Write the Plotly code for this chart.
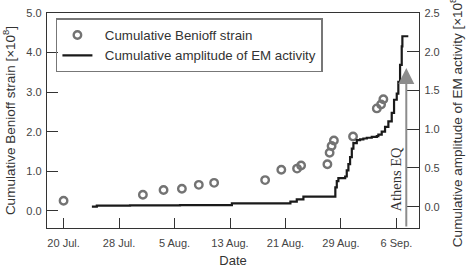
import plotly.graph_objects as go

# ---- data ----
benioff_dates = [
    "1999-07-20 00:00", "1999-07-31 10:30", "1999-08-03 10:00", "1999-08-06 01:30",
    "1999-08-08 12:00", "1999-08-10 17:00", "1999-08-18 01:30", "1999-08-20 09:30",
    "1999-08-22 16:00", "1999-08-23 06:00", "1999-08-27 01:00", "1999-08-27 08:40",
    "1999-08-27 15:30", "1999-08-27 23:30", "1999-08-30 17:45", "1999-09-03 04:00",
    "1999-09-03 18:45", "1999-09-04 02:40",
]
benioff_values = [
    0.26, 0.41, 0.53, 0.56, 0.66, 0.71, 0.78, 1.04, 1.07, 1.15, 1.18, 1.47,
    1.64, 1.78, 1.88, 2.59, 2.69, 2.82,
]

em_dates = [
    "1999-07-24 02:00", "1999-07-24 19:00", "1999-07-29 14:00", "1999-08-05 19:00",
    "1999-08-13 06:30", "1999-08-21 17:00", "1999-08-22 15:00", "1999-08-23 14:00",
    "1999-08-28 04:30", "1999-08-28 09:30", "1999-08-28 15:00", "1999-08-29 14:30",
    "1999-08-29 20:00", "1999-08-30 01:40", "1999-08-30 07:30", "1999-08-30 13:30",
    "1999-08-30 19:00", "1999-08-31 06:40", "1999-08-31 18:00", "1999-09-01 05:30",
    "1999-09-01 17:20", "1999-09-02 10:30", "1999-09-03 04:00", "1999-09-03 09:20",
    "1999-09-03 21:00", "1999-09-04 08:30", "1999-09-04 20:00", "1999-09-05 07:40",
    "1999-09-05 15:40", "1999-09-06 01:00", "1999-09-06 06:30", "1999-09-06 12:30",
    "1999-09-06 18:15", "1999-09-06 20:30", "1999-09-07 17:00",
]
em_values = [
    0.0, 0.013, 0.016, 0.02, 0.044, 0.065, 0.095, 0.13, 0.25, 0.33, 0.37, 0.39,
    0.47, 0.55, 0.64, 0.75, 0.82, 0.86, 0.87, 0.88, 0.89, 0.90, 0.91, 0.93,
    0.97, 1.03, 1.10, 1.21, 1.38, 1.46, 1.61, 1.83, 2.07, 2.20, 2.20,
]

x_tick_dates = ["1999-07-20", "1999-07-28", "1999-08-05", "1999-08-13",
                "1999-08-21", "1999-08-29", "1999-09-06"]
x_tick_labels = ["20 Jul.", "28 Jul.", "5 Aug.", "13 Aug.", "21 Aug.", "29 Aug.", "6 Sep."]
x_range = ["1999-07-17 14:40", "1999-09-09 06:00"]

y_left_ticks = [0.0, 1.0, 2.0, 3.0, 4.0, 5.0]
y_left_range = [-0.43, 5.0]
y_right_ticks = [0.0, 0.5, 1.0, 1.5, 2.0, 2.5]
y_right_range = [-0.275, 2.5]

eq_date = "1999-09-07 10:00"
eq_arrow_tip = 1.79
eq_label = "Athens EQ"
eq_label_y = 0.355

FONT = "Liberation Sans, Arial, sans-serif"
AX = "#333333"

fig = go.Figure()
fig.add_trace(go.Scatter(
    x=benioff_dates, y=benioff_values, mode="markers",
    name="\u00a0\u00a0Cumulative Benioff strain",
    marker=dict(symbol="circle-open", size=7.5, color="#737373",
                line=dict(width=2.4, color="#737373")),
    yaxis="y",
))
fig.add_trace(go.Scatter(
    x=em_dates, y=em_values, mode="lines", line_shape="hv",
    name="\u00a0\u00a0Cumulative amplitude of EM activity",
    line=dict(color="#1a1a1a", width=2.2),
    yaxis="y2",
))

fig.add_annotation(
    x=eq_date, y=eq_arrow_tip, xref="x", yref="y2",
    ax=eq_date, ay=y_right_range[0], axref="x", ayref="y2",
    text="", showarrow=True, arrowhead=2, arrowsize=1.6, arrowwidth=2,
    arrowcolor="#8c8c8c",
)
fig.add_annotation(
    x=eq_date, y=eq_label_y, xref="x", yref="y2", xshift=-10,
    text=eq_label, showarrow=False, textangle=-90,
    font=dict(family="Liberation Serif, Times New Roman, serif", size=14.5, color="#333333"),
)

fig.update_layout(
    width=469, height=268,
    margin=dict(l=47, r=50, t=13, b=40),
    paper_bgcolor="white", plot_bgcolor="white",
    font=dict(family=FONT, color=AX, size=11),
    showlegend=True,
    legend=dict(
        x=0.024, y=0.975, xanchor="left", yanchor="top",
        bordercolor="#777777", borderwidth=1.5, bgcolor="rgba(255,255,255,0)",
        font=dict(family=FONT, size=13.3, color="#333333"),
        tracegroupgap=0,
    ),
    xaxis=dict(
        type="date", range=x_range, automargin=False,
        tickmode="array", tickvals=x_tick_dates, ticktext=x_tick_labels,
        ticks="inside", ticklen=10, tickwidth=1.3, tickcolor=AX,
        showline=True, linecolor=AX, linewidth=1.4, mirror=True,
        showgrid=False, zeroline=False, ticklabelstandoff=5,
        tickfont=dict(size=11, color="#444444"),
        title=dict(text="Date", font=dict(size=13, color="#333333"), standoff=12),
    ),
    yaxis=dict(
        range=y_left_range, tickmode="array", tickvals=y_left_ticks,
        tickformat=".1f", automargin=False,
        ticks="inside", ticklen=11, tickwidth=1.3, tickcolor=AX,
        showline=True, linecolor=AX, linewidth=1.4,
        showgrid=False, zeroline=False, ticklabelstandoff=2,
        tickfont=dict(size=11, color="#444444"),
        title=dict(text="Cumulative Benioff strain [×10<sup>8</sup>]",
                   font=dict(size=13.5, color="#333333"), standoff=8),
    ),
    yaxis2=dict(
        range=y_right_range, tickmode="array", tickvals=y_right_ticks,
        tickformat=".1f", overlaying="y", side="right", automargin=False,
        ticks="inside", ticklen=12, tickwidth=1.3, tickcolor=AX,
        showline=True, linecolor=AX, linewidth=1.4,
        showgrid=False, zeroline=False, ticklabelstandoff=2,
        tickfont=dict(size=11, color="#444444"),
        title=dict(text="Cumulative amplitude of EM activity [×10<sup>8</sup>]",
                   font=dict(size=13.5, color="#333333"), standoff=13),
    ),
)

fig.write_html("out.html")
